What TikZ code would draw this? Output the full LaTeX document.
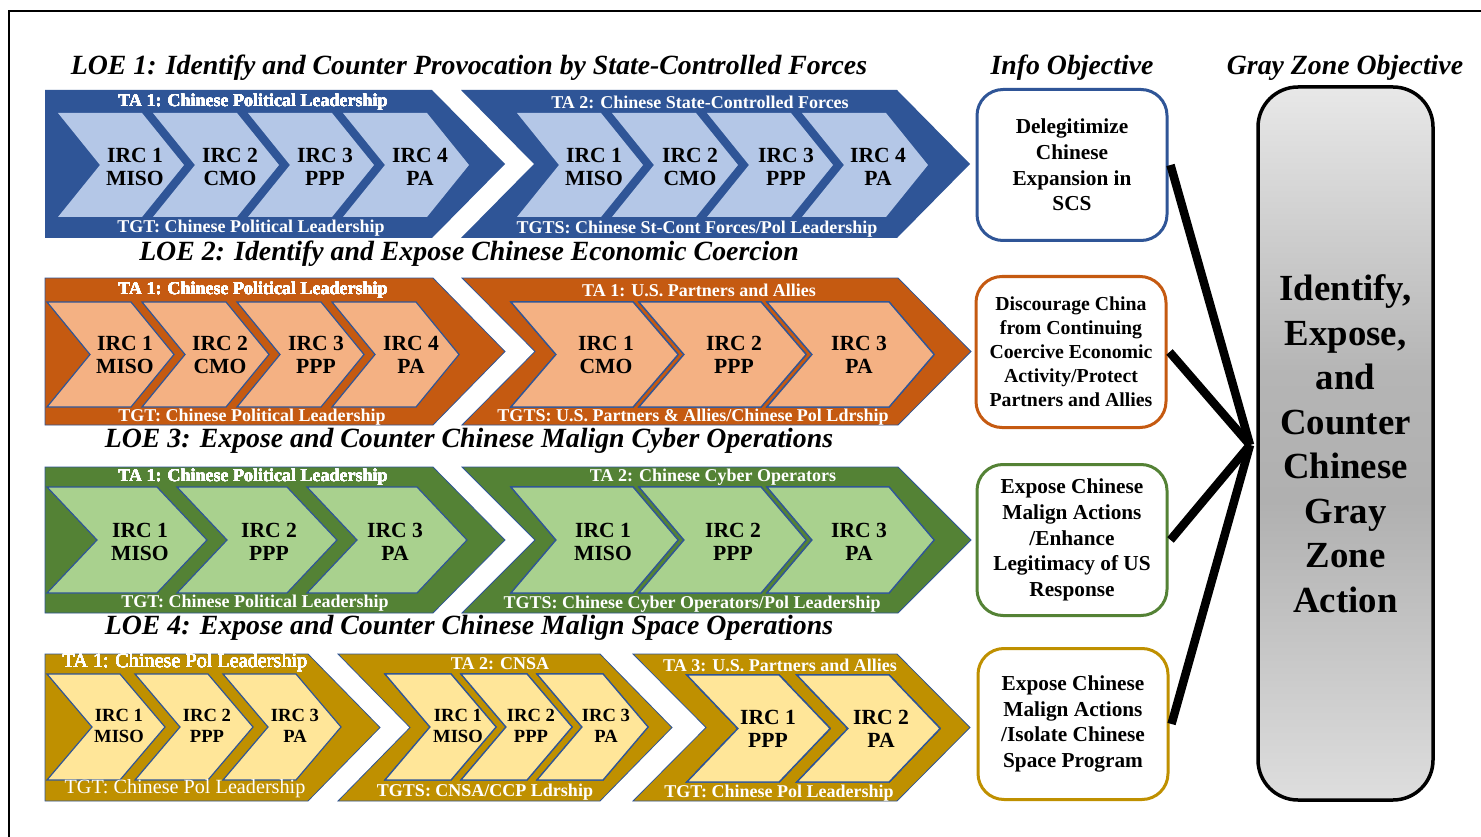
\documentclass[tikz,border=0pt]{standalone}
\usepackage{fontspec}
\setmainfont{Liberation Serif}
\definecolor{bdark}{HTML}{2F5597}
\definecolor{blight}{HTML}{B4C7E7}
\definecolor{odark}{HTML}{C55A11}
\definecolor{olight}{HTML}{F4B183}
\definecolor{gdark}{HTML}{548235}
\definecolor{glight}{HTML}{A9D18E}
\definecolor{ydark}{HTML}{BF9000}
\definecolor{ylight}{HTML}{FFE699}
\definecolor{rim}{HTML}{2F5597}
% gray gradient of the objective box: light at both ends, darker in the upper middle
\pgfdeclareverticalshading{grayzone}{100bp}{color(0bp)=(black!13); color(25bp)=(black!13); color(46bp)=(black!31); color(55bp)=(black!29); color(75bp)=(black!9); color(100bp)=(black!9)}
% chevron with a notched left side: style, top-left x, top width, depth, top y, bottom y
\newcommand\chevshape[6]{\path[#1] (#2,#5) -- ({#2+#3},#5) -- ({#2+#3+#4},{(#5+#6)/2}) -- ({#2+#3},#6) -- (#2,#6) -- ({#2+#4},{(#5+#6)/2}) -- cycle;}
% pentagon with a flat left side
\newcommand\plateshape[6]{\path[#1] (#2,#5) -- ({#2+#3},#5) -- ({#2+#3+#4},{(#5+#6)/2}) -- ({#2+#3},#6) -- (#2,#6) -- cycle;}
\tikzset{
  title/.style={font=\bfseries\itshape\fontsize{27.8}{30}\selectfont, inner sep=0pt},
  talbl/.style={text=white, font=\bfseries\fontsize{18}{20}\selectfont, inner sep=0pt},
  talblr/.style={text=white, font=\fontsize{20.2}{22}\selectfont, inner sep=0pt},
  irc/.style={align=center, font=\bfseries\fontsize{21.6}{23}\selectfont, inner sep=0pt},
  ircs/.style={align=center, font=\bfseries\fontsize{18.6}{21}\selectfont, inner sep=0pt},
  objbox/.style={draw=#1, line width=3pt, fill=white, rounded corners=26pt,
    minimum width=190pt, minimum height=151pt, align=center, inner sep=2pt},
  objtext/.style={font=\bfseries\fontsize{21.3}{25.7}\selectfont},
  link/.style={line width=8.5pt, black},
  outerB/.style={fill=bdark},
  innerB/.style={fill=blight},
  outerO/.style={fill=odark, draw=rim, line width=0.8pt},
  innerO/.style={fill=olight, draw=rim, line width=1.2pt},
  outerG/.style={fill=gdark, draw=rim, line width=0.8pt},
  innerG/.style={fill=glight, draw=rim, line width=1.2pt},
  outerY/.style={fill=ydark, draw=rim, line width=0.8pt},
  innerY/.style={fill=ylight, draw=rim, line width=1.2pt},
}
\begin{document}
\begin{tikzpicture}[x=1pt, y=-1pt]
\useasboundingbox (0,0) rectangle (1481,837);
\fill[white] (0,0) rectangle (1481,837);
% outer frame
\draw[line width=2pt] (9,840) -- (9,11) -- (1485,11);

% ---------------- LOE 1 ----------------
\node[title] (loe1) at (469,68) {LOE 1: Identify and Counter Provocation by State-Controlled Forces};
\plateshape{outerB}{45}{387}{73}{90}{238}
\chevshape{outerB}{461}{436}{73}{90}{238}
\foreach \x in {58,153,248,343,517,612,707,802}
  \chevshape{innerB}{\x}{84}{42}{113}{217}
\node[talbl] (r1ta1) at (253,102) {TA 1: Chinese Political Leadership};
\node[talbl] (r1tg1) at (251,228) {TGT: Chinese Political Leadership};
\node[talbl] (r1ta2) at (700,102) {TA 2: Chinese State-Controlled Forces};
\node[talbl] (r1tg2) at (697,229) {TGTS: Chinese St-Cont Forces/Pol Leadership};
\foreach \x/\t/\n in {135/{IRC 1\\MISO}/r1a, 230/{IRC 2\\CMO}/r1b, 325/{IRC 3\\PPP}/r1c, 420/{IRC 4\\PA}/r1d,
                      594/{IRC 1\\MISO}/r1e, 690/{IRC 2\\CMO}/r1f, 786/{IRC 3\\PPP}/r1g, 878/{IRC 4\\PA}/r1h}
  \node[irc] (\n) at (\x,167) {\t};

% ---------------- LOE 2 ----------------
\node[title] (loe2) at (469,254) {LOE 2: Identify and Expose Chinese Economic Coercion};
\plateshape{outerO}{45}{388}{72}{278}{425}
\chevshape{outerO}{462}{436}{73}{278}{425}
\foreach \x in {47,142,237,332}
  \chevshape{innerO}{\x}{84}{43}{302}{407}
\foreach \x in {511,639,767}
  \chevshape{innerO}{\x}{122}{45}{302}{407}
\node[talbl] (r2ta1) at (253,290) {TA 1: Chinese Political Leadership};
\node[talbl] (r2tg1) at (252,417) {TGT: Chinese Political Leadership};
\node[talbl] (r2ta2) at (699,290) {TA 1: U.S. Partners and Allies};
\node[talbl] (r2tg2) at (693,417) {TGTS: U.S. Partners \& Allies/Chinese Pol Ldrship};
\foreach \x/\t/\n in {125/{IRC 1\\MISO}/r2a, 220/{IRC 2\\CMO}/r2b, 316/{IRC 3\\PPP}/r2c, 411/{IRC 4\\PA}/r2d,
                      606/{IRC 1\\CMO}/r2e, 734/{IRC 2\\PPP}/r2f, 859/{IRC 3\\PA}/r2g}
  \node[irc] (\n) at (\x,355) {\t};

% ---------------- LOE 3 ----------------
\node[title] (loe3) at (469,441) {LOE 3: Expose and Counter Chinese Malign Cyber Operations};
\plateshape{outerG}{45}{388}{72}{467}{613}
\chevshape{outerG}{462}{436}{73}{467}{613}
\foreach \x in {47,177,307}
  \chevshape{innerG}{\x}{110}{50}{487}{593}
\foreach \x in {511,639,767}
  \chevshape{innerG}{\x}{122}{45}{487}{593}
\node[talbl] (r3ta1) at (253,477) {TA 1: Chinese Political Leadership};
\node[talbl] (r3tg1) at (255,603) {TGT: Chinese Political Leadership};
\node[talbl] (r3ta2) at (713,477) {TA 2: Chinese Cyber Operators};
\node[talbl] (r3tg2) at (692,604) {TGTS: Chinese Cyber Operators/Pol Leadership};
\foreach \x/\t/\n in {140/{IRC 1\\MISO}/r3a, 269/{IRC 2\\PPP}/r3b, 395/{IRC 3\\PA}/r3c,
                      603/{IRC 1\\MISO}/r3e, 733/{IRC 2\\PPP}/r3f, 859/{IRC 3\\PA}/r3g}
  \node[irc] (\n) at (\x,542) {\t};

% ---------------- LOE 4 ----------------
\node[title] (loe4) at (469,628) {LOE 4: Expose and Counter Chinese Malign Space Operations};
\plateshape{outerY}{45}{263}{72}{654}{801}
\chevshape{outerY}{338}{262}{72}{654}{801}
\chevshape{outerY}{633}{264}{73}{654}{801}
\foreach \x in {47,135,223}
  \chevshape{innerY}{\x}{73}{45}{674}{780}
\foreach \x in {385,461,537}
  \chevshape{innerY}{\x}{66}{45}{674}{780}
\foreach \x in {687,797}
  \chevshape{innerY}{\x}{92}{51}{675}{782}
\node[talblr] (r4ta1) at (185,663) {TA 1: Chinese Pol Leadership};
\node[talblr] (r4tg1) at (185,789) {TGT: Chinese Pol Leadership};
\node[talbl] (r4ta2) at (500,664) {TA 2: CNSA};
\node[talbl] (r4tg2) at (485,792) {TGTS: CNSA/CCP Ldrship};
\node[talbl] (r4ta3) at (780,665) {TA 3: U.S. Partners and Allies};
\node[talbl] (r4tg3) at (779,793) {TGT: Chinese Pol Leadership};
\foreach \x/\t/\n in {119/{IRC 1\\MISO}/r4a, 207/{IRC 2\\PPP}/r4b, 295/{IRC 3\\PA}/r4c,
                      458/{IRC 1\\MISO}/r4e, 531/{IRC 2\\PPP}/r4f, 606/{IRC 3\\PA}/r4g}
  \node[ircs] (\n) at (\x,726) {\t};
\foreach \x/\t/\n in {768/{IRC 1\\PPP}/r4h, 881/{IRC 2\\PA}/r4i}
  \node[irc] (\n) at (\x,729) {\t};

% ---------------- objectives ----------------
\node[title] (infohd) at (1072,68) {Info Objective};
\node[title] (grayhd) at (1345,68) {Gray Zone Objective};

\node[objbox=bdark, objtext] (ob1) at (1072,165) {Delegitimize\\Chinese\\Expansion in\\SCS};
\node[objbox=odark, objtext, font=\bfseries\fontsize{19.8}{24}\selectfont] (ob2) at (1071,352) {Discourage China\\from Continuing\\Coercive Economic\\Activity/Protect\\Partners and Allies};
\node[objbox=gdark, objtext] (ob3) at (1072,540) {Expose Chinese\\Malign Actions\\/Enhance\\Legitimacy of US\\Response};
\node[objbox=ydark, objtext] (ob4) at (1073,724) {Expose Chinese\\Malign Actions\\/Isolate Chinese\\Space Program};

\node[draw=black, line width=3.5pt, rounded corners=40pt, minimum width=175pt, minimum height=713pt,
      shading=grayzone, align=center, font=\bfseries\fontsize{36.8}{44.5}\selectfont] (gz) at (1345.5,443.5)
  {Identify,\\Expose,\\and\\Counter\\Chinese\\Gray\\Zone\\Action};

\coordinate (hub) at (1250,445);
\foreach \b in {ob1,ob2,ob3,ob4}
  \draw[link] ([xshift=2pt]\b.east) -- (hub);
\end{tikzpicture}
\end{document}
